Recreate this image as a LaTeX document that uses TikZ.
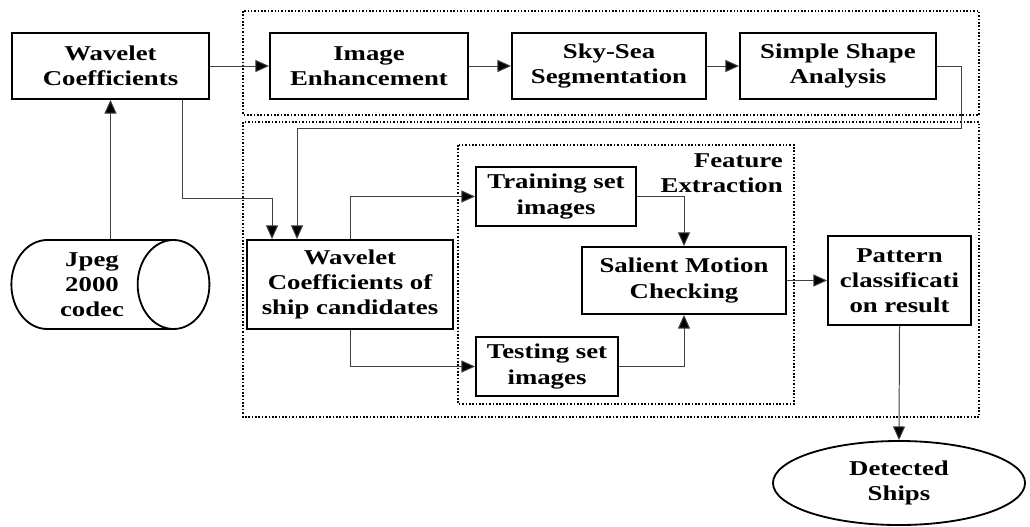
\documentclass[tikz,border=0pt]{standalone}
\usepackage{fontspec}
\newfontfamily\diagfont{Liberation Serif}[FakeStretch=1.27]
\usetikzlibrary{arrows.meta,shapes.geometric,calc}

\tikzset{
  stage/.style={draw, line width=1.3pt, rectangle, align=center, inner sep=0pt,
    font={\diagfont\bfseries\fontsize{15pt}{17.8pt}\selectfont}},
  groupbox/.style={line width=1.4pt, dash pattern=on 1.1pt off 1.3pt},
  link/.style={draw=black!75, line width=0.7pt,
    -{Triangle[length=0.34cm,width=0.3cm,fill=black]}}
}

\begin{document}
\begin{tikzpicture}[x=0.025cm,y=-0.025cm]
\useasboundingbox (0,0) rectangle (1030,526);
% dotted groups
\draw [groupbox] (243,11) rectangle (979,115);
\draw [groupbox] (243,122) rectangle (979,417);
\draw [groupbox] (458,145) rectangle (794,404);
\node (fx) [anchor=north east, inner sep=0pt, align=right,
  font={\diagfont\bfseries\fontsize{15pt}{17.8pt}\selectfont}] at (783,153) {Feature\\Extraction};
% top row
\node (wc) [stage, minimum width=4.925cm, minimum height=1.65cm] at (110.5,66) {Wavelet\\Coefficients};
\node (ie) [stage, minimum width=4.95cm, minimum height=1.65cm] at (369,66) {Image\\Enhancement};
\node (ss) [stage, minimum width=4.85cm, minimum height=1.65cm] at (609,66) {Sky-Sea\\Segmentation};
\node (sa) [stage, minimum width=4.9cm, minimum height=1.65cm] at (838,66) {Simple Shape\\Analysis};
% lower part
\node (jpeg) [stage, cylinder, aspect=1.12, minimum width=2.225cm, minimum height=4.95cm] at (92,284.5) {Jpeg\\2000\\codec};
\node (ship) [stage, minimum width=5.15cm, minimum height=2.225cm] at (350,284.5) {Wavelet\\Coefficients of\\ship candidates};
\node (train) [stage, minimum width=4.0cm, minimum height=1.475cm] at (556,196.5) {Training set\\images};
\node (test) [stage, minimum width=3.55cm, minimum height=1.475cm] at (547,366.5) {Testing set\\images};
\node (sal) [stage, minimum width=5.1cm, minimum height=1.675cm] at (684,280.5) {Salient Motion\\Checking};
\node (pat) [stage, minimum width=3.575cm, minimum height=2.225cm] at (899.5,280.5) {Pattern\\classificati\\on result};
\node (det) [stage, ellipse, minimum width=6.3cm, minimum height=2.1cm] at (899,483) {Detected\\Ships};
\coordinate (fb) at (961,128);
\coordinate (wcturn) at (182,198);
% connectors
\draw [link] (wc.south |- jpeg.north) -- (wc.south);
\draw [link] (wc.east) -- (ie.west);
\draw [link] (ie.east) -- (ss.west);
\draw [link] (ss.east) -- (sa.west);
\draw [link] (sa.east) -| (fb) -| ($(ship.north)+(-53,0)$);
\draw [link] (wc.south -| wcturn) -- (wcturn) -| ($(ship.north)+(-78,0)$);
\draw [link] (ship.north) |- (train.west);
\draw [link] (ship.south) |- (test.west);
\draw [link] (train.east) -| (sal.north);
\draw [link] (test.east) -| (sal.south);
\draw [link] (sal.east) -- (pat.west);
\draw [link] (pat.south) -- (det.north);
\end{tikzpicture}
\end{document}
